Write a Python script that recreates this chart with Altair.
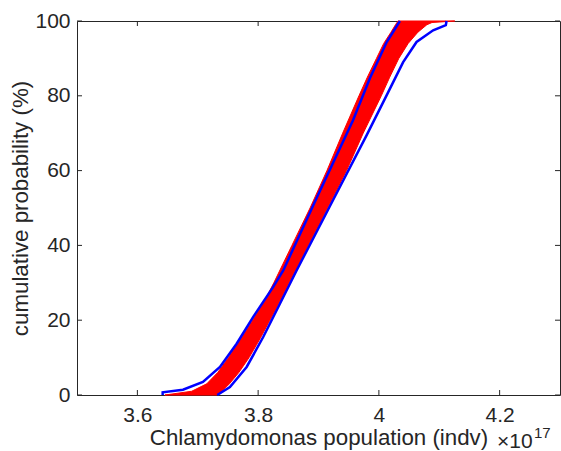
import altair as alt
import pandas as pd

# ---- data (x in units of 1e17 individuals) ----
prob_levels = [0, 1, 3, 6, 10, 15, 20, 25, 30, 35, 40, 50, 60, 70, 80, 85, 90, 94, 97, 99, 99.6, 100]
red_left = [3.6457, 3.6900, 3.7150, 3.7330, 3.7510, 3.7710, 3.7910, 3.8100, 3.8260, 3.8410,
            3.8560, 3.8860, 3.9140, 3.9400, 3.9670, 3.9810, 3.9960, 4.0080, 4.0200, 4.0275, 4.0300, 4.0315]
red_right = [3.7318, 3.7401, 3.7525, 3.7680, 3.7850, 3.8030, 3.8195, 3.8360, 3.8515, 3.8675,
             3.8830, 3.9150, 3.9465, 3.9740, 4.0040, 4.0180, 4.0330, 4.0485, 4.0646, 4.0795, 4.0880, 4.1258]

blue_lo_x = [3.6419, 3.6419, 3.6755, 3.7086, 3.7368, 3.7644, 3.7919, 3.8250, 3.8416, 3.8990,
             3.9570, 3.9851, 4.0128, 4.0348]
blue_lo_y = [0, 0.7, 1.4, 3.5, 7.5, 13.7, 20.9, 28.9, 33.3, 53.4, 73.4, 84.7, 94.3, 100]
blue_hi_x = [3.7323, 3.7533, 3.7810, 3.8084, 3.8361, 3.8637, 3.9173, 3.9796, 4.0128, 4.0402,
             4.0624, 4.0899, 4.1109, 4.1121]
blue_hi_y = [0, 2.1, 7.5, 15.5, 24.4, 33.3, 50, 69.4, 80.1, 89.0, 94.4, 97.5, 98.9, 100]

x_ticks = [3.6, 3.8, 4.0, 4.2]
y_ticks = [0, 20, 40, 60, 80, 100]

W, H = 483, 374
FONT = "Liberation Sans"
INK = "#262626"

xscale = alt.Scale(domain=[3.5, 4.3], nice=False, zero=False)
yscale = alt.Scale(domain=[0, 100], nice=False, zero=False)

xaxis = alt.Axis(values=x_ticks, format="~g", title="Chlamydomonas population (indv)", tickSize=0,
                 labelPadding=9, titlePadding=1, grid=False, domain=False)
yaxis = alt.Axis(values=y_ticks, title="cumulative probability (%)", tickSize=0, labelPadding=7,
                 titlePadding=2, grid=False, domain=False)

band = pd.DataFrame({"p": prob_levels, "lo": red_left, "hi": red_right})
area = alt.Chart(band).mark_area(
    orient="horizontal", color="#ff0000", stroke="#ff0000", strokeWidth=1
).encode(
    y=alt.Y("p:Q", scale=yscale, axis=yaxis),
    x=alt.X("lo:Q", scale=xscale, axis=xaxis),
    x2="hi:Q",
)

blue = pd.concat([
    pd.DataFrame({"x": blue_lo_x, "p": blue_lo_y, "s": "lo", "i": range(len(blue_lo_x))}),
    pd.DataFrame({"x": blue_hi_x, "p": blue_hi_y, "s": "hi", "i": range(len(blue_hi_x))}),
])
lines = alt.Chart(blue).mark_line(color="#0000ff", strokeWidth=2.5).encode(
    x=alt.X("x:Q", scale=xscale, axis=xaxis),
    y=alt.Y("p:Q", scale=yscale, axis=yaxis),
    detail="s:N",
    order="i:Q",
)

xt = pd.DataFrame({"t": x_ticks})
yt = pd.DataFrame({"t": y_ticks})
one = pd.DataFrame({"k": [0]})
TL = 5
bottom_ticks = alt.Chart(xt).mark_rule(color=INK, strokeWidth=1).encode(
    x=alt.X("t:Q", scale=xscale, axis=xaxis), y=alt.value(H), y2=alt.value(H - TL))
top_ticks = alt.Chart(xt).mark_rule(color=INK, strokeWidth=1).encode(
    x=alt.X("t:Q", scale=xscale, axis=xaxis), y=alt.value(0), y2=alt.value(TL))
left_ticks = alt.Chart(yt).mark_rule(color=INK, strokeWidth=1).encode(
    y=alt.Y("t:Q", scale=yscale, axis=yaxis), x=alt.value(0), x2=alt.value(TL))
right_ticks = alt.Chart(yt).mark_rule(color=INK, strokeWidth=1).encode(
    y=alt.Y("t:Q", scale=yscale, axis=yaxis), x=alt.value(W), x2=alt.value(W - TL))

times10 = alt.Chart(one).mark_text(
    text="\u00d710", font=FONT, fontSize=21, fontWeight="normal", color=INK, align="left",
    baseline="alphabetic"
).encode(x=alt.value(420), y=alt.value(427))
expo = alt.Chart(one).mark_text(
    text="17", font=FONT, fontSize=15, fontWeight="normal", color=INK, align="left",
    baseline="alphabetic"
).encode(x=alt.value(457), y=alt.value(417))

chart = alt.layer(
    area, lines, bottom_ticks, top_ticks, left_ticks, right_ticks, times10, expo
).properties(
    width=W, height=H,
    padding={"left": 77, "top": 21, "right": 1, "bottom": 56},
    autosize=alt.AutoSizeParams(type="none"),
    background="white",
).configure_view(
    stroke=INK, strokeWidth=1
).configure_axis(
    labelFont=FONT, titleFont=FONT, labelFontSize=21, titleFontSize=22.3,
    labelColor=INK, titleColor=INK, titleFontWeight="normal",
)

chart.save("out.html", embed_options={"renderer": "svg", "actions": False})
